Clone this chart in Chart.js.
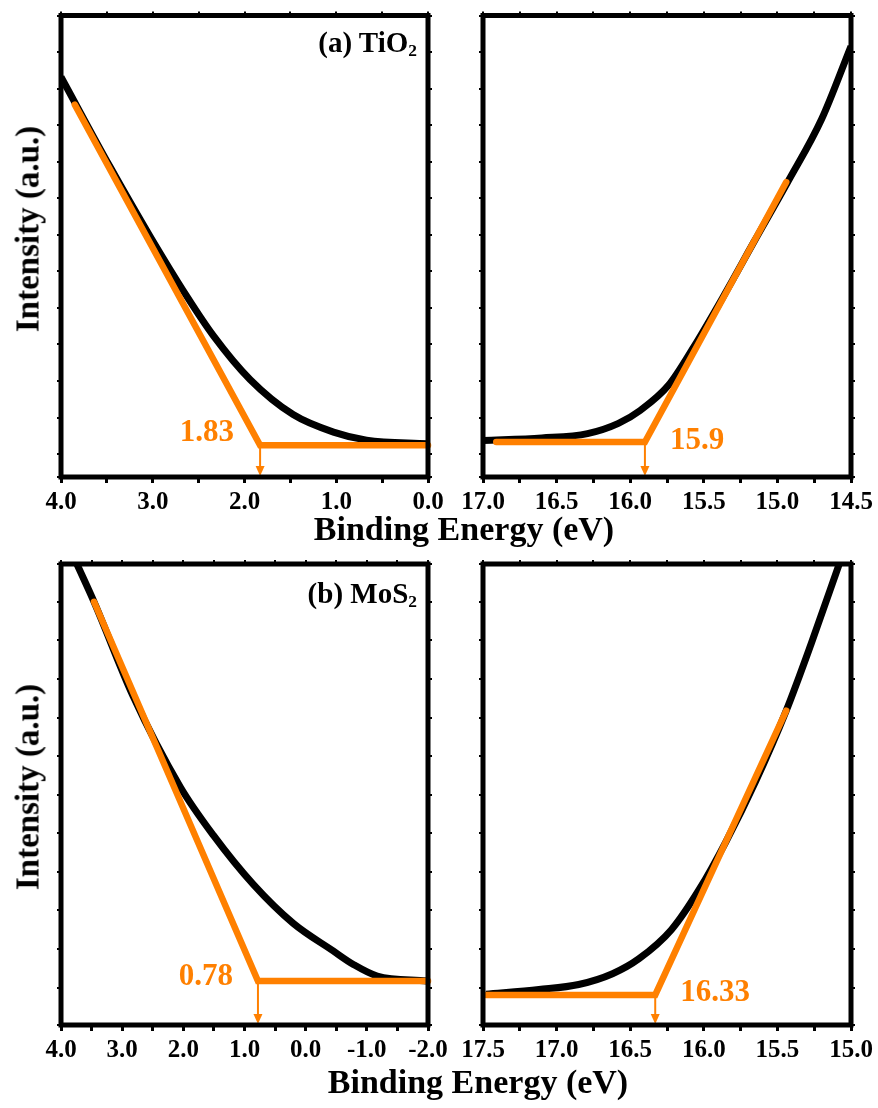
<!DOCTYPE html>
<html>

<head>
  <meta charset="utf-8">
  <title>UPS onset</title>
  <style>
    body { margin: 0; background: #fff; }
    .page { position: relative; width: 878px; height: 1108px; font-family: "Liberation Serif", serif; font-weight: bold; color: #000; }
    .page canvas { position: absolute; left: 0; }
    .ytitle { position: absolute; font-size: 33px; line-height: 1; white-space: nowrap; transform: translate(-50%, -50%) rotate(-90deg); }
    .xtitle { position: absolute; font-size: 34px; line-height: 1; white-space: nowrap; transform: translateX(-50%); }
    .tag { position: absolute; font-size: 29px; line-height: 1; white-space: nowrap; }
    .tag sub { font-size: 60%; vertical-align: -0.25em; line-height: 0; }
  </style>
</head>

<body>
  <main class="page">
    <canvas id="ti-vb" width="878" height="554" style="top:0"></canvas>
    <canvas id="ti-cut" width="878" height="554" style="top:0"></canvas>
    <canvas id="mo-vb" width="878" height="554" style="top:554px"></canvas>
    <canvas id="mo-cut" width="878" height="554" style="top:554px"></canvas>

    <div class="ytitle" style="left:28px;top:229px">Intensity (a.u.)</div>
    <div class="ytitle" style="left:28px;top:787px">Intensity (a.u.)</div>
    <div class="xtitle" style="left:464px;top:512px">Binding Energy (eV)</div>
    <div class="xtitle" style="left:478px;top:1065px">Binding Energy (eV)</div>
    <div class="tag" style="right:461px;top:28px">(a) TiO<sub>2</sub></div>
    <div class="tag" style="right:461px;top:579px">(b) MoS<sub>2</sub></div>
  </main>

  <script src="https://cdn.jsdelivr.net/npm/chart.js"></script>

  <script>
    // TiO2 valence band edge
    const tiVbX = [4.0, 3.47, 3.03, 2.63, 2.34, 1.94, 1.47, 1.03, 0.67, 0.0];
    const tiVbY = [2.58, 1.97, 1.49, 1.08, 0.81, 0.51, 0.27, 0.15, 0.095, 0.07];
    const tiVbFitX = [3.85, 1.83, 0.0];
    const tiVbFitY = [2.39, 0.06, 0.06];

    // TiO2 secondary electron cutoff
    const tiCutX = [17.0, 16.6, 16.29, 16.08, 15.93, 15.74, 15.57, 15.36, 15.16, 14.93, 14.70, 14.5];
    const tiCutY = [0.093, 0.11, 0.14, 0.21, 0.30, 0.47, 0.73, 1.09, 1.45, 1.86, 2.29, 2.79];
    const tiCutFitX = [16.91, 15.9, 14.94];
    const tiCutFitY = [0.082, 0.082, 1.86];

    // MoS2 valence band edge
    const moVbX = [3.74, 3.46, 2.82, 2.05, 1.51, 0.86, 0.20, -0.45, -0.78, -1.17, -1.98];
    const moVbY = [10.98, 10.0, 7.55, 5.2, 3.95, 2.68, 1.66, 0.95, 0.6, 0.3, 0.17];
    const moVbFitX = [3.46, 0.78, -2.0];
    const moVbFitY = [10.0, 0.17, 0.17];

    // MoS2 secondary electron cutoff
    const moCutX = [17.48, 17.12, 16.85, 16.62, 16.44, 16.22, 16.03, 15.85, 15.65, 15.44, 15.27, 15.08];
    const moCutY = [-0.17, -0.05, 0.08, 0.36, 0.75, 1.5, 2.55, 3.78, 5.33, 7.18, 8.92, 10.98];
    const moCutFitX = [17.48, 16.33, 15.44];
    const moCutFitY = [-0.19, -0.19, 7.18];

    // onset values (eV) marked with arrows
    const onsets = [1.83, 15.9, 0.78, 16.33];

    const ORANGE = '#ff8000';
    Chart.defaults.font.family = '"Liberation Serif", serif';
    Chart.defaults.color = '#000';

    const pts = (xs, ys) => xs.map((x, i) => ({ x, y: ys[i] }));

    // frame, onset arrow and value text
    const framePlugin = {
      id: 'frame',
      afterDatasetsDraw(chart, args, opts) {
        const { ctx, chartArea: a, scales: { x, y } } = chart;
        const px = x.getPixelForValue(opts.onset);
        const py = y.getPixelForValue(opts.level);
        ctx.save();
        ctx.strokeStyle = ORANGE;
        ctx.fillStyle = ORANGE;
        ctx.lineWidth = 2;
        ctx.beginPath();
        ctx.moveTo(px, py);
        ctx.lineTo(px, a.bottom - 8);
        ctx.stroke();
        ctx.beginPath();
        ctx.moveTo(px - 4.5, a.bottom - 11);
        ctx.lineTo(px + 4.5, a.bottom - 11);
        ctx.lineTo(px, a.bottom - 1);
        ctx.closePath();
        ctx.fill();
        ctx.font = 'bold 31px "Liberation Serif"';
        ctx.textAlign = opts.align;
        ctx.textBaseline = 'alphabetic';
        ctx.fillText(String(opts.onset), px + opts.dx, py + opts.dy);
        ctx.strokeStyle = '#000';
        ctx.lineWidth = 5;
        ctx.strokeRect(a.left, a.top, a.width, a.height);
        ctx.restore();
      }
    };

    function makeChart(id, c) {
      const zeroW = s => { s.width = 0; };
      const zeroH = s => { s.height = 0; };
      const isMajor = v => Math.abs(v / c.major - Math.round(v / c.major)) < 1e-6;
      return new Chart(document.getElementById(id), {
        type: 'line',
        data: {
          datasets: [
            {
              data: pts(c.fitX, c.fitY),
              borderColor: ORANGE, borderWidth: 6.5, borderCapStyle: 'round', borderJoinStyle: 'miter',
              pointRadius: 0, tension: 0, clip: 4
            },
            {
              data: pts(c.lineX, c.lineY),
              borderColor: '#000', borderWidth: 7, pointRadius: 0,
              cubicInterpolationMode: 'monotone'
            }
          ]
        },
        options: {
          responsive: false,
          animation: false,
          layout: { padding: c.pad },
          plugins: { legend: { display: false }, tooltip: { enabled: false }, frame: c.mark },
          scales: {
            x: {
              type: 'linear', position: 'bottom', min: c.xmin, max: c.xmax, reverse: true,
              border: { display: false },
              grid: { drawOnChartArea: false, tickLength: 6, lineWidth: 3, color: '#000' },
              ticks: {
                stepSize: c.minor, autoSkip: false, maxRotation: 0, padding: 5,
                font: { size: 25, weight: 'bold' },
                callback: v => isMajor(v) ? v.toFixed(1) : ''
              },
              afterFit: s => { s.height = 60; }
            },
            x2: {
              type: 'linear', position: 'top', min: c.xmin, max: c.xmax, reverse: true,
              border: { display: false },
              grid: { drawOnChartArea: false, tickLength: 4, lineWidth: 2, color: '#000' },
              ticks: { stepSize: c.minor, display: false },
              afterFit: zeroH
            },
            y: {
              type: 'linear', position: 'left', min: c.ymin, max: c.ymax,
              border: { display: false },
              grid: { drawOnChartArea: false, tickLength: 4, lineWidth: 2, color: '#000' },
              ticks: { stepSize: c.ystep, display: false },
              afterFit: zeroW
            },
            y2: {
              type: 'linear', position: 'right', min: c.ymin, max: c.ymax,
              border: { display: false },
              grid: { drawOnChartArea: false, tickLength: 4, lineWidth: 2, color: '#000' },
              ticks: { stepSize: c.ystep, display: false },
              afterFit: zeroW
            }
          }
        },
        plugins: [framePlugin]
      });
    }

    makeChart('ti-vb', {
      lineX: tiVbX, lineY: tiVbY, fitX: tiVbFitX, fitY: tiVbFitY,
      xmin: 0, xmax: 4, minor: 0.5, major: 1, ymin: -0.157, ymax: 3.0, ystep: 0.25,
      pad: { left: 61, top: 15.5, right: 450, bottom: 17 },
      mark: { onset: onsets[0], level: tiVbFitY[1], align: 'right', dx: -26, dy: -4 }
    });
    makeChart('ti-cut', {
      lineX: tiCutX, lineY: tiCutY, fitX: tiCutFitX, fitY: tiCutFitY,
      xmin: 14.5, xmax: 17.0, minor: 0.25, major: 0.5, ymin: -0.157, ymax: 3.0, ystep: 0.25,
      pad: { left: 483, top: 15.5, right: 27, bottom: 17 },
      mark: { onset: onsets[1], level: tiCutFitY[1], align: 'left', dx: 25, dy: 7 }
    });
    makeChart('mo-vb', {
      lineX: moVbX, lineY: moVbY, fitX: moVbFitX, fitY: moVbFitY,
      xmin: -2, xmax: 4, minor: 0.5, major: 1, ymin: -0.97, ymax: 10.98, ystep: 1,
      pad: { left: 61, top: 10, right: 450, bottom: 23 },
      mark: { onset: onsets[2], level: moVbFitY[1], align: 'right', dx: -25, dy: 4 }
    });
    makeChart('mo-cut', {
      lineX: moCutX, lineY: moCutY, fitX: moCutFitX, fitY: moCutFitY,
      xmin: 15.0, xmax: 17.5, minor: 0.25, major: 0.5, ymin: -0.97, ymax: 10.98, ystep: 1,
      pad: { left: 483, top: 10, right: 27, bottom: 23 },
      mark: { onset: onsets[3], level: moCutFitY[1], align: 'left', dx: 25, dy: 6 }
    });
  </script>
</body>

</html>
